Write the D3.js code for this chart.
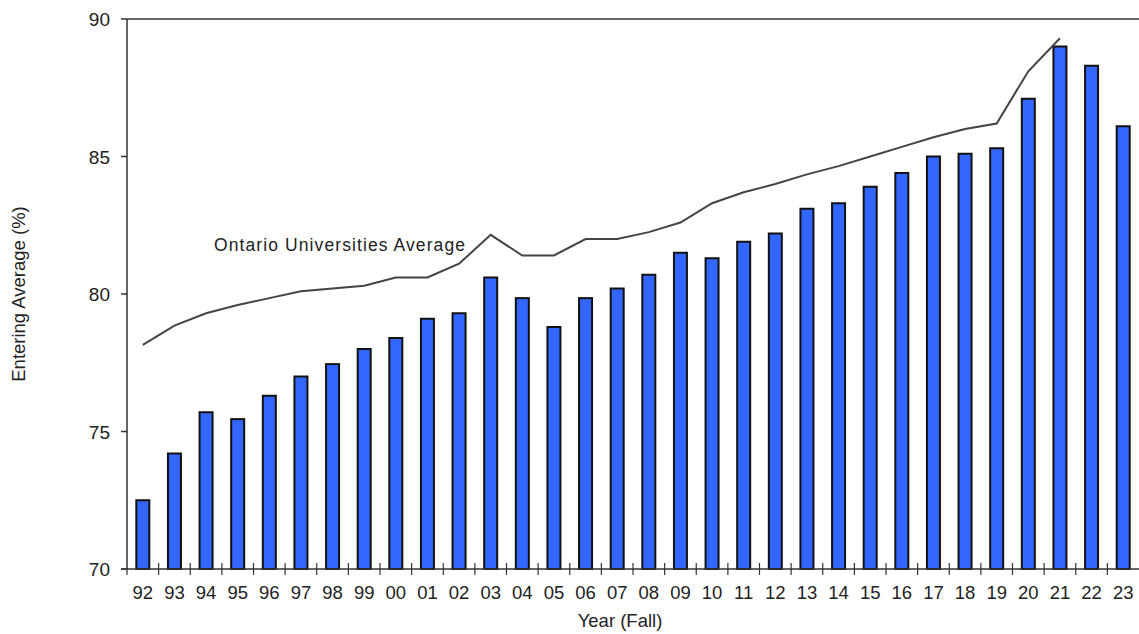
<!DOCTYPE html>
<html>
<head>
<meta charset="UTF-8">
<script src="https://d3js.org/d3.v7.min.js"></script>
<style>
  body {margin:0; background:#fff;}
  text {font-family: "Liberation Sans", Arial, sans-serif; fill:#222;}
</style>
</head>
<body>
<div id="chart"></div>
<script>
var years = ["92","93","94","95","96","97","98","99","00","01","02","03","04","05","06","07",
             "08","09","10","11","12","13","14","15","16","17","18","19","20","21","22","23"];
var entering = [72.5,74.2,75.7,75.45,76.3,77.0,77.45,78.0,78.4,79.1,79.3,80.6,79.85,78.8,79.85,80.2,
                80.7,81.5,81.3,81.9,82.2,83.1,83.3,83.9,84.4,85.0,85.1,85.3,87.1,89.0,88.3,86.1];
var ontario = [78.15,78.85,79.3,79.6,79.85,80.1,80.2,80.3,80.6,80.6,81.1,82.15,81.4,81.4,82.0,82.0,
               82.25,82.6,83.3,83.7,84.0,84.35,84.65,85.0,85.35,85.7,86.0,86.2,88.1,89.3];
var yTicks = [70,75,80,85,90];

var W = 1139, H = 634, pLeft = 127, pRight = 1139, pTop = 19, pBottom = 569;
var svg = d3.select("#chart").append("svg").attr("width", W).attr("height", H);

var x = d3.scaleBand().domain(years).range([pLeft, pRight]);
var y = d3.scaleLinear().domain([70, 90]).range([pBottom, pTop]);

// bars
svg.selectAll("rect.bar").data(entering).enter().append("rect")
    .attr("x", function(d, i) { return x(years[i]) + x.bandwidth()/2 - 6.5; })
    .attr("y", function(d) { return y(d); })
    .attr("width", 13)
    .attr("height", function(d) { return pBottom - y(d); })
    .attr("fill", "#3366ff").attr("stroke", "#111").attr("stroke-width", 2);

// line
var line = d3.line()
    .x(function(d, i) { return x(years[i]) + x.bandwidth()/2; })
    .y(function(d) { return y(d); });
svg.append("path").datum(ontario).attr("d", line)
    .attr("fill", "none").attr("stroke", "#444").attr("stroke-width", 2);

svg.append("text").attr("x", 214).attr("y", 251).attr("font-size", 17.5)
    .attr("textLength", 251).attr("lengthAdjust", "spacing")
    .text("Ontario Universities Average");

// axes
svg.append("line").attr("x1", pLeft).attr("x2", pRight).attr("y1", pTop).attr("y2", pTop)
    .attr("stroke", "#333").attr("stroke-width", 1.5);
svg.append("line").attr("x1", pLeft).attr("x2", pLeft).attr("y1", pTop).attr("y2", pBottom)
    .attr("stroke", "#333").attr("stroke-width", 1.5);
svg.append("line").attr("x1", pLeft - 6).attr("x2", pRight).attr("y1", pBottom).attr("y2", pBottom)
    .attr("stroke", "#333").attr("stroke-width", 1.5);

yTicks.forEach(function(t) {
  svg.append("line").attr("x1", pLeft - 6).attr("x2", pLeft).attr("y1", y(t)).attr("y2", y(t))
      .attr("stroke", "#333").attr("stroke-width", 1.5);
  svg.append("text").attr("x", 110).attr("y", y(t) + 7).attr("text-anchor", "end")
      .attr("font-size", 19).text(t);
});

years.forEach(function(yr, i) {
  var xb = x(yr);
  svg.append("line").attr("x1", xb).attr("x2", xb).attr("y1", i > 0 ? pBottom - 6 : pBottom).attr("y2", pBottom + 6)
      .attr("stroke", "#333").attr("stroke-width", 1.2);
  svg.append("text").attr("x", xb + x.bandwidth()/2).attr("y", pBottom + 30)
      .attr("text-anchor", "middle").attr("font-size", 18.5).text(yr);
});

svg.append("text").attr("x", 620).attr("y", 627).attr("text-anchor", "middle")
    .attr("font-size", 18.5).text("Year (Fall)");
svg.append("text").attr("transform", "translate(25,294) rotate(-90)")
    .attr("text-anchor", "middle").attr("font-size", 18.5).text("Entering Average (%)");
</script>
</body>
</html>
